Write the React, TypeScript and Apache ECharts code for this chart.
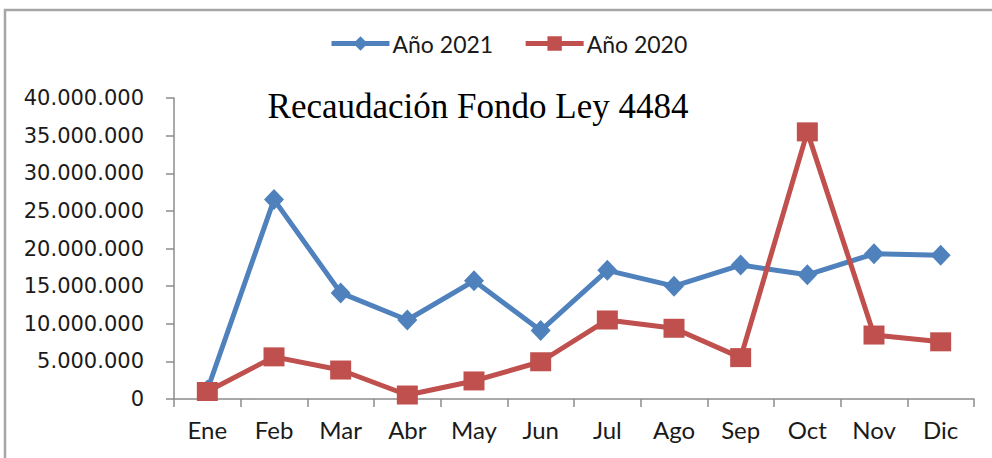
import React, { useEffect, useRef } from "react";
import * as echarts from "echarts";

const months = ["Ene", "Feb", "Mar", "Abr", "May", "Jun", "Jul", "Ago", "Sep", "Oct", "Nov", "Dic"];
const year2021 = [1200000, 26500000, 14100000, 10500000, 15700000, 9100000, 17100000, 15000000, 17800000, 16500000, 19300000, 19100000];
const year2020 = [1000000, 5600000, 3850000, 530000, 2400000, 4950000, 10500000, 9400000, 5500000, 35500000, 8500000, 7600000];
const seriesNames = ["Año 2021", "Año 2020"];
const titleText = "Recaudación Fondo Ley 4484";

const fmt = (v: number) => String(Math.round(v)).replace(/\B(?=(\d{3})+(?!\d))/g, ".");

export default function App() {
  const ref = useRef<HTMLDivElement>(null);
  useEffect(() => {
    if (!ref.current) return;
    const chart = echarts.init(ref.current, null, { renderer: "svg" });
    chart.setOption({
      animation: false,
      backgroundColor: "#ffffff",
      legend: {
        data: seriesNames,
        left: 324,
        top: 27,
        itemWidth: 58,
        itemHeight: 18,
        itemGap: 30,
        lineStyle: { width: 5 },
        textStyle: { fontFamily: "Lato", fontSize: 23, color: "#1a1a1a", padding: [0, 0, 0, -2] },
      },
      grid: { left: 174, right: 18, top: 98, bottom: 59, containLabel: false },
      xAxis: {
        type: "category",
        data: months,
        boundaryGap: true,
        axisLine: { lineStyle: { color: "#8c8c8c", width: 1.5 } },
        axisTick: { show: true, length: 8, lineStyle: { color: "#8c8c8c", width: 1.5 } },
        axisLabel: { fontFamily: "Lato", fontSize: 24, color: "#1a1a1a", margin: 18 },
      },
      yAxis: {
        type: "value",
        min: 0,
        max: 40000000,
        interval: 5000000,
        axisLine: { show: true, lineStyle: { color: "#8c8c8c", width: 1.5 } },
        axisTick: { show: true, length: 8, lineStyle: { color: "#8c8c8c", width: 1.5 } },
        splitLine: { show: false },
        axisLabel: { fontFamily: "DejaVu Sans", fontSize: 21, color: "#1a1a1a", margin: 30, formatter: fmt },
      },
      series: [
        {
          name: seriesNames[0],
          type: "line",
          data: year2021,
          color: "#4F81BD",
          symbol: "diamond",
          symbolSize: [20, 21],
          lineStyle: { width: 5, color: "#4F81BD" },
          itemStyle: { color: "#4F81BD" },
          z: 2,
        },
        {
          name: seriesNames[1],
          type: "line",
          data: year2020,
          color: "#C0504D",
          symbol: "rect",
          symbolSize: [21, 19],
          lineStyle: { width: 5, color: "#C0504D" },
          itemStyle: { color: "#C0504D" },
          z: 3,
        },
      ],
      graphic: [
        {
          type: "rect",
          shape: { x: 5, y: 10, width: 1100, height: 1000 },
          style: { fill: "none", stroke: "#a6a6a6", lineWidth: 2.5 },
          silent: true,
        },
        {
          type: "text",
          x: 478,
          y: 106,
          style: {
            text: titleText,
            fontFamily: "Liberation Serif",
            fontSize: 35,
            fill: "#000000",
            textAlign: "center",
            textVerticalAlign: "middle",
          },
          z: 10,
        },
      ],
    });
    return () => chart.dispose();
  }, []);
  return <div ref={ref} style={{ width: 992, height: 458, position: "absolute", left: 0, top: 0 }} />;
}
